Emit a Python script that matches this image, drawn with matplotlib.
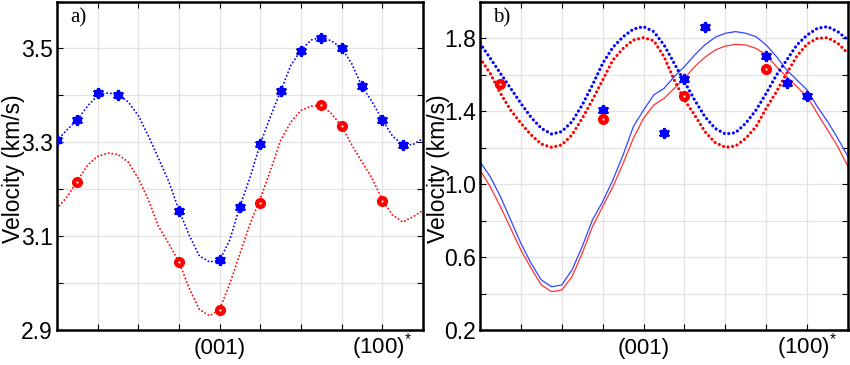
import matplotlib
matplotlib.use('Agg')
import matplotlib.pyplot as plt
import numpy as np

plt.rcParams['font.family'] = ['Liberation Sans', 'DejaVu Sans']
plt.rcParams['mathtext.fontset'] = 'custom'
plt.rcParams['mathtext.rm'] = 'Liberation Sans'

# angle along the profile (deg), curves sampled every quarter tick
ang = np.arange(-90, 112.5 + 1e-6, 5.625)

# panel a) curves
a_blue = [3.304, 3.327, 3.348, 3.377, 3.400, 3.405, 3.402, 3.386, 3.357, 3.313,
          3.265, 3.216, 3.155, 3.102, 3.058, 3.045, 3.049, 3.092, 3.164, 3.226,
          3.297, 3.355, 3.409, 3.464, 3.496, 3.518, 3.524, 3.516, 3.501, 3.467,
          3.419, 3.386, 3.348, 3.313, 3.295, 3.295, 3.308]
a_red = [3.159, 3.184, 3.218, 3.251, 3.270, 3.277, 3.274, 3.258, 3.223, 3.177,
         3.120, 3.084, 3.045, 2.989, 2.944, 2.930, 2.944, 2.999, 3.063, 3.127,
         3.180, 3.240, 3.304, 3.343, 3.368, 3.377, 3.379, 3.361, 3.334, 3.294,
         3.258, 3.223, 3.177, 3.145, 3.130, 3.141, 3.155]

# panel a) measurements
a_blue_ang = [-90, -78.75, -67.5, -56.25, -22.5, 0, 11.25, 22.5, 33.75, 45,
              56.25, 67.5, 78.75, 90, 101.25]
a_blue_v = [3.304, 3.348, 3.404, 3.400, 3.154, 3.049, 3.162, 3.296, 3.409, 3.494,
            3.523, 3.501, 3.419, 3.348, 3.294]
a_red_ang = [-78.75, -22.5, 0, 22.5, 56.25, 67.5, 90]
a_red_v = [3.216, 3.044, 2.943, 3.171, 3.379, 3.335, 3.175]

# panel b) curves
b_blue = [1.771, 1.689, 1.606, 1.524, 1.442, 1.365, 1.305, 1.274, 1.287, 1.342,
          1.433, 1.542, 1.661, 1.749, 1.807, 1.849, 1.862, 1.835, 1.762, 1.661,
          1.561, 1.460, 1.369, 1.305, 1.274, 1.281, 1.333, 1.405, 1.497, 1.597,
          1.679, 1.762, 1.816, 1.853, 1.862, 1.835, 1.789]
b_red = [1.689, 1.606, 1.497, 1.405, 1.333, 1.269, 1.219, 1.201, 1.214, 1.269,
         1.360, 1.460, 1.570, 1.679, 1.743, 1.789, 1.802, 1.785, 1.698, 1.570,
         1.460, 1.378, 1.287, 1.227, 1.201, 1.208, 1.250, 1.314, 1.415, 1.506,
         1.606, 1.701, 1.767, 1.798, 1.802, 1.771, 1.716]
b_blue_thin = [1.122, 1.040, 0.931, 0.803, 0.675, 0.565, 0.474, 0.437, 0.447, 0.529,
               0.657, 0.803, 0.903, 1.022, 1.159, 1.314, 1.405, 1.488, 1.524, 1.588,
               1.643, 1.707, 1.762, 1.804, 1.826, 1.835, 1.826, 1.807, 1.762, 1.698,
               1.625, 1.570, 1.515, 1.424, 1.342, 1.250, 1.150]
b_red_thin = [1.077, 0.985, 0.876, 0.757, 0.638, 0.538, 0.447, 0.410, 0.419, 0.492,
              0.620, 0.766, 0.876, 0.985, 1.113, 1.250, 1.360, 1.433, 1.469, 1.524,
              1.579, 1.643, 1.694, 1.734, 1.756, 1.765, 1.762, 1.743, 1.707, 1.643,
              1.588, 1.533, 1.479, 1.387, 1.296, 1.205, 1.095]

# panel b) measurements
b_blue_ang = [-22.5, 11.25, 22.5, 33.75, 67.5, 78.75, 90]
b_blue_v = [1.403, 1.281, 1.577, 1.863, 1.702, 1.556, 1.482]
b_red_ang = [-78.75, -22.5, 22.5, 67.5]
b_red_v = [1.546, 1.354, 1.482, 1.629]

xticks = np.arange(-90, 112.5 + 1e-6, 22.5)
xlabels = ['', '', '', '', '(001)', '', '', '', '(100)$^{*}$', '']

fig = plt.figure(figsize=(8.5, 3.65), dpi=100)
ax1 = fig.add_axes([57 / 850, 35 / 365, 366 / 850, 328.5 / 365])
ax2 = fig.add_axes([480 / 850, 35 / 365, 368 / 850, 328.5 / 365])


def markers(ax, bx, bv, rx, rv):
    ax.plot(bx, bv, 'o', color='blue', ms=5.5, zorder=5)
    ax.plot(bx, bv, marker=(6, 2, 0), ls='none', color='blue', ms=8, mew=1.6, zorder=5)
    ax.plot(rx, rv, 'o', color='red', ms=7, zorder=5)
    ax.plot(rx, rv, '.', color='white', ms=1.2, zorder=6)


def style(ax, ylim, major, minor, tag, labx):
    ax.set_xlim(-90, 112.5)
    ax.set_ylim(*ylim)
    ax.set_xticks(xticks)
    ax.set_xticklabels(xlabels)
    ax.set_yticks(minor, minor=True)
    ax.set_yticks(major)
    ax.set_yticklabels(['%.1f' % v for v in major])
    ax.grid(True, which='both', color='#e3e3e3', lw=0.9)
    ax.set_axisbelow(True)
    ax.tick_params(which='both', direction='in', length=4, width=0.8,
                   top=True, right=True, labelsize=16.5, pad=3)
    ax.tick_params(axis='x', pad=17, labelsize=16)
    for lbl in ax.get_xticklabels():
        lbl.set_verticalalignment('baseline')
    for s in ax.spines.values():
        s.set_linewidth(1.8)
    ax.set_ylabel('Velocity (km/s)', fontsize=16.5)
    ax.yaxis.set_label_coords(labx, 0.49)
    ax.text(0.035, 0.98, tag, transform=ax.transAxes, va='top', ha='left',
            fontsize=15, family='Liberation Serif')


ax1.plot(ang, a_blue, color='blue', lw=1.4, dashes=(0.01, 1.9), dash_capstyle='round')
ax1.plot(ang, a_red, color='red', lw=1.4, dashes=(0.01, 1.9), dash_capstyle='round')
markers(ax1, a_blue_ang, a_blue_v, a_red_ang, a_red_v)
style(ax1, (2.9, 3.6), [2.9, 3.1, 3.3, 3.5], np.arange(2.9, 3.61, 0.1), 'a)', -0.087)

ax2.plot(ang, b_blue_thin, color='#3344ff', lw=0.9)
ax2.plot(ang, b_red_thin, color='#ff3333', lw=0.9)
ax2.plot(ang, b_blue, color='blue', lw=2.3, dashes=(0.01, 1.45), dash_capstyle='round')
ax2.plot(ang, b_red, color='red', lw=2.3, dashes=(0.01, 1.45), dash_capstyle='round')
markers(ax2, b_blue_ang, b_blue_v, b_red_ang, b_red_v)
style(ax2, (0.2, 2.0), [0.2, 0.6, 1.0, 1.4, 1.8], np.arange(0.2, 2.01, 0.2), 'b)', -0.082)

fig.savefig('out.png', dpi=100)
